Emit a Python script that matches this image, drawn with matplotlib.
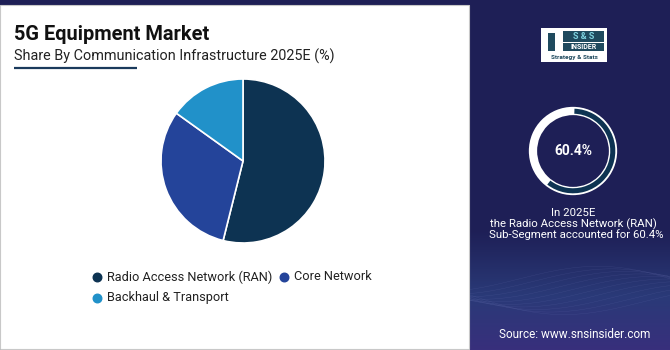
import matplotlib.pyplot as plt
import matplotlib.patches as mpatches
import numpy as np

# pie shares by communication infrastructure, 2025E
segments = ["Radio Access Network (RAN)", "Core Network", "Backhaul & Transport"]
shares = [53.9, 31.0, 15.1]
colors = ["#0d3352", "#24449a", "#2191c9"]

# highlight ring value
ran_share = 60.4

NAVY = "#1e1f56"
W, H = 670, 350

plt.rcParams['font.family'] = ['Roboto', 'DejaVu Sans']

fig = plt.figure(figsize=(W / 100, H / 100), dpi=100)
fig.patch.set_facecolor(NAVY)

# canvas axes in pixel coordinates (y down)
bg = fig.add_axes([0, 0, 1, 1])
bg.set_xlim(0, W)
bg.set_ylim(H, 0)
bg.axis("off")

# right side gradient: navy -> blue -> purple near the bottom
grad = np.zeros((120, 1, 3))
top = np.array([0x1e, 0x1f, 0x56]) / 255
mid = np.array([0x2a, 0x3a, 0x78]) / 255
bot = np.array([0x38, 0x2f, 0x7c]) / 255
for i in range(120):
    t = i / 119
    if t < 0.55:
        c = top + (mid - top) * (t / 0.55)
    else:
        c = mid + (bot - mid) * ((t - 0.55) / 0.45)
    grad[i, 0] = c
bg.imshow(grad, extent=[469, W, H, 230], aspect="auto", zorder=0)

# faint wave lines
xs = np.linspace(469, W, 200)
for k in range(10):
    ys = 295 + 16 * np.sin((xs - 470) / 55 + k * 0.25) - k * 2 + (xs - 470) * 0.04
    bg.plot(xs, ys, color="#9a9fe0", lw=0.3, alpha=0.15, zorder=1)

# white panel
bg.add_patch(mpatches.Rectangle((0, 5), 469, 344, facecolor="white",
                                edgecolor="#c8c8c8", lw=0.8, zorder=2))

# titles
bg.text(14, 40, "5G Equipment Market", fontsize=14.4, fontweight="bold",
        color="#111111", zorder=3)
bg.text(14, 61, "Share By Communication Infrastructure 2025E (%)", fontsize=10.4,
        color="#222222", zorder=3)
bg.plot([14, 137], [67.5, 67.5], color="#1a3a5c", lw=1.6, zorder=3,
        solid_capstyle="butt")

# legend
legend_pos = [(97, 277), (284, 277), (97, 298)]
for (lx, ly), name, col in zip(legend_pos, segments, colors):
    bg.scatter([lx], [ly], s=38, color=col, zorder=3)
    bg.text(lx + 10, ly, name, fontsize=9.2, color="#222222",
            va="center", zorder=3)

# pie
R = 82
pie_ax = fig.add_axes([(243 - R) / W, 1 - (161 + R) / H, 2 * R / W, 2 * R / H])
pie_ax.pie(shares, colors=colors, startangle=90, counterclock=False,
           wedgeprops=dict(edgecolor="white", linewidth=1.2))
pie_ax.set_xlim(-1, 1)
pie_ax.set_ylim(-1, 1)
pie_ax.set_aspect("equal")

# logo
bg.add_patch(mpatches.Rectangle((541, 28), 66, 34, facecolor="white",
                                edgecolor="none", zorder=3))
bg.add_patch(mpatches.Rectangle((563, 31), 41, 11, facecolor="#1f4a5e",
                                edgecolor="none", zorder=4))
bg.text(583.5, 36.5, "S & S", fontsize=6.5, fontweight="bold", color="#7fd3e0",
        ha="center", va="center", zorder=5)
bg.add_patch(mpatches.Rectangle((563, 43), 41, 8, facecolor="#1f4a5e",
                                edgecolor="none", zorder=4))
bg.text(583.5, 47, "INSIDER", fontsize=5, fontweight="bold", color="white",
        ha="center", va="center", zorder=5)
bg.text(574, 57, "Strategy & Stats", fontsize=4.6, fontweight="bold",
        color="#1f4a5e", ha="center", va="center", zorder=5)
bg.add_patch(mpatches.Rectangle((548, 33), 7, 18, facecolor="#1f4a5e",
                                edgecolor="none", zorder=4))

# ring with highlighted share
RR = 46
ring_ax = fig.add_axes([(573 - RR) / W, 1 - (151 + RR) / H, 2 * RR / W, 2 * RR / H])
ring_ax.set_xlim(-1, 1)
ring_ax.set_ylim(-1, 1)
ring_ax.set_aspect("equal")
ring_ax.axis("off")
ring_ax.add_patch(mpatches.Wedge((0, 0), 0.96, 0, 360, width=0.18,
                                 facecolor="white", edgecolor="none"))
ring_ax.add_patch(mpatches.Wedge((0, 0), 0.92, 90 - 360 * ran_share / 100, 88,
                                 width=0.11, facecolor="#0d3352",
                                 edgecolor="none"))
ring_ax.text(0, 0, f"{ran_share}%", fontsize=10, fontweight="bold",
             color="white", ha="center", va="center")

# caption
bg.text(573, 213, "In 2025E", fontsize=8.2, color="white", ha="center",
        va="center", zorder=3)
bg.text(573, 224, "the Radio Access Network (RAN)", fontsize=8.2, color="white",
        ha="center", va="center", zorder=3)
bg.text(576, 235, f"Sub-Segment accounted for {ran_share}%", fontsize=8.2,
        color="white", ha="center", va="center", zorder=3)

bg.text(575, 334, "Source: www.snsinsider.com", fontsize=8.5, color="white",
        ha="center", va="center", zorder=3)

fig.savefig("out.png", dpi=100, facecolor=NAVY)
